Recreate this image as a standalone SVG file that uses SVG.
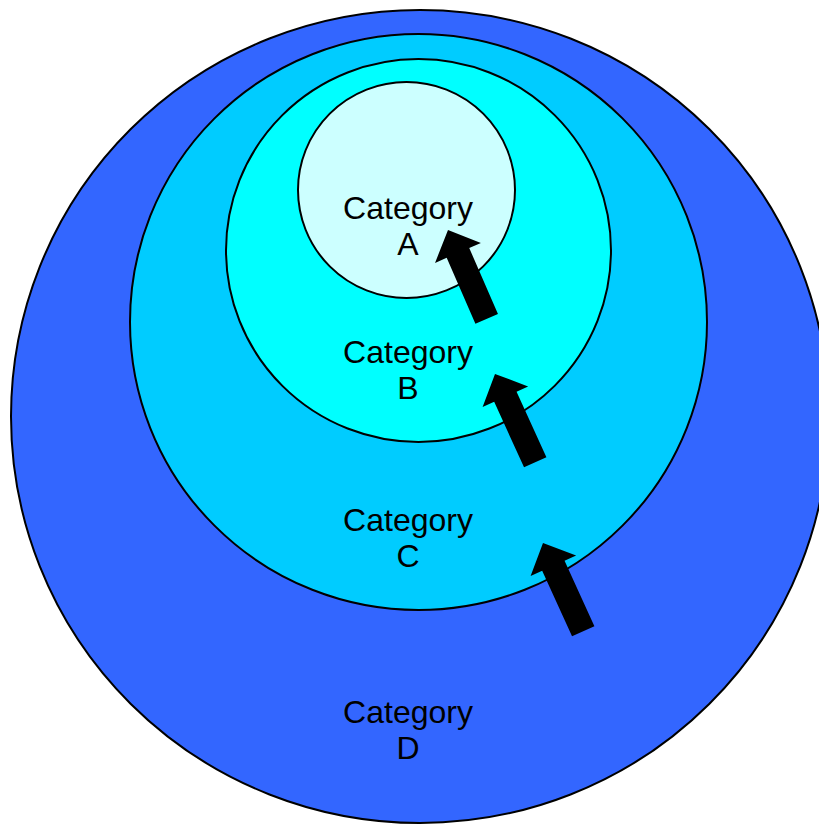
<svg xmlns="http://www.w3.org/2000/svg" xmlns:xlink="http://www.w3.org/1999/xlink" width="819" height="824" viewBox="0 0 819 824">
<style>
.ring{stroke:#000;stroke-width:2}
.lbl{font-family:"Liberation Sans",Arial,sans-serif;font-size:32px;fill:#000;text-anchor:middle}
.arr{fill:#000}
</style>
<defs>
<path id="blockArrow" d="M0,0 L25,25 L12.3,25 L12.3,97 L-12.3,97 L-12.3,25 L-25,25 Z"/>
</defs>
<rect width="819" height="824" fill="#fff"/>
<g id="nodeD">
<ellipse class="ring" cx="420" cy="416.5" rx="409" ry="406.5" fill="#3366FF"/>
<text class="lbl" x="408" y="723">Category</text>
<text class="lbl" x="408" y="759">D</text>
</g>
<g id="nodeC">
<ellipse class="ring" cx="418.5" cy="322" rx="288.5" ry="288" fill="#00CCFF"/>
<text class="lbl" x="408" y="531">Category</text>
<text class="lbl" x="408" y="567">C</text>
</g>
<g id="nodeB">
<ellipse class="ring" cx="418.5" cy="250.5" rx="192.5" ry="191.5" fill="#00FFFF"/>
<text class="lbl" x="408" y="363">Category</text>
<text class="lbl" x="408" y="399">B</text>
</g>
<g id="nodeA">
<ellipse class="ring" cx="406.5" cy="190" rx="108.5" ry="108" fill="#CCFFFF"/>
<text class="lbl" x="408" y="219">Category</text>
<text class="lbl" x="408" y="255">A</text>
</g>
<g id="connectors" class="arr">
<use xlink:href="#blockArrow" transform="translate(448,230) rotate(-23.5)"/>
<use xlink:href="#blockArrow" transform="translate(495,374) rotate(-24.5)"/>
<use xlink:href="#blockArrow" transform="translate(543,543) rotate(-24.5)"/>
</g>
</svg>
